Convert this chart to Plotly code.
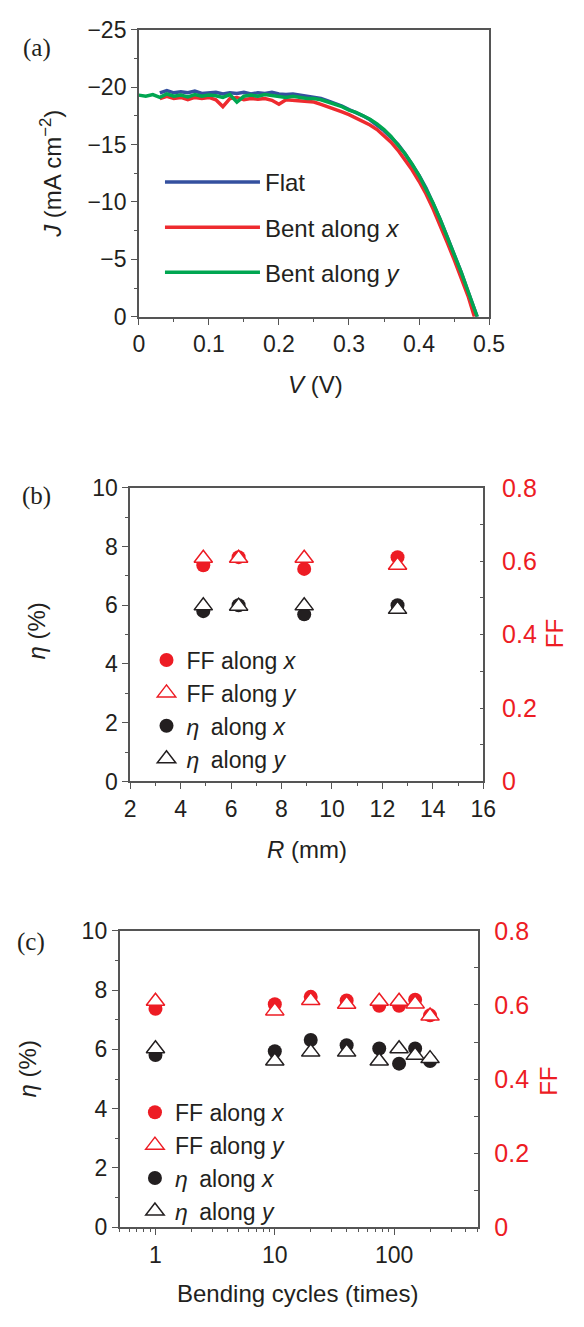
import math
import plotly.graph_objects as go

W, H = 584, 1327

# ---------------- Panel (a): J-V curves ----------------
V_flat = [0.03, 0.04, 0.05, 0.06, 0.07, 0.08, 0.09, 0.10, 0.11, 0.12, 0.13, 0.14, 0.15, 0.16,
          0.17, 0.18, 0.19, 0.20, 0.21, 0.22, 0.23, 0.24, 0.25, 0.26, 0.27, 0.28, 0.29, 0.30,
          0.31, 0.32, 0.33, 0.34, 0.35, 0.36, 0.37, 0.38, 0.39, 0.40, 0.41, 0.42, 0.43, 0.44,
          0.45, 0.46, 0.47, 0.48, 0.483]
J_flat = [-19.5, -19.7, -19.5, -19.6, -19.5, -19.65, -19.45, -19.5, -19.55, -19.4, -19.5, -19.45,
          -19.55, -19.4, -19.5, -19.45, -19.55, -19.4, -19.35, -19.4, -19.3, -19.2, -19.15, -19.0,
          -18.8, -18.6, -18.35, -18.05, -17.8, -17.5, -17.15, -16.7, -16.2, -15.6, -15.0, -14.2,
          -13.3, -12.3, -11.2, -9.9, -8.5, -7.0, -5.5, -3.9, -2.2, -0.6, 0.0]

V_bent_x = [0.03, 0.04, 0.05, 0.06, 0.07, 0.08, 0.09, 0.10, 0.11, 0.12, 0.13, 0.14, 0.15, 0.16,
            0.17, 0.18, 0.19, 0.20, 0.21, 0.22, 0.23, 0.24, 0.25, 0.26, 0.27, 0.28, 0.29, 0.30,
            0.31, 0.32, 0.33, 0.34, 0.35, 0.36, 0.37, 0.38, 0.39, 0.40, 0.41, 0.42, 0.43, 0.44,
            0.45, 0.46, 0.47, 0.479]
J_bent_x = [-19.0, -19.2, -19.0, -19.1, -18.9, -19.1, -19.0, -19.1, -18.9, -18.3, -19.0, -19.1,
            -18.9, -19.0, -18.95, -19.0, -18.85, -18.5, -18.9, -18.85, -18.8, -18.75, -18.7, -18.5,
            -18.3, -18.1, -17.85, -17.6, -17.3, -17.0, -16.7, -16.3, -15.8, -15.2, -14.5, -13.7,
            -12.8, -11.8, -10.7, -9.4, -8.0, -6.5, -5.0, -3.4, -1.8, 0.0]

V_bent_y = [0.00, 0.01, 0.02, 0.03, 0.04, 0.05, 0.06, 0.07, 0.08, 0.09, 0.10, 0.11, 0.12, 0.13,
            0.14, 0.15, 0.16, 0.17, 0.18, 0.19, 0.20, 0.21, 0.22, 0.23, 0.24, 0.25, 0.26, 0.27,
            0.28, 0.29, 0.30, 0.31, 0.32, 0.33, 0.34, 0.35, 0.36, 0.37, 0.38, 0.39, 0.40, 0.41,
            0.42, 0.43, 0.44, 0.45, 0.46, 0.47, 0.48, 0.483]
J_bent_y = [-19.3, -19.2, -19.35, -19.1, -19.4, -19.2, -19.3, -19.15, -19.35, -19.2, -19.3, -19.25,
            -19.1, -19.35, -18.7, -19.2, -19.3, -19.2, -19.35, -19.25, -19.2, -19.1, -19.2, -19.1,
            -19.0, -19.0, -18.9, -18.7, -18.5, -18.3, -18.0, -17.8, -17.5, -17.2, -16.8, -16.3,
            -15.7, -15.0, -14.2, -13.3, -12.3, -11.1, -9.9, -8.5, -7.0, -5.5, -3.9, -2.2, -0.5, 0.0]

# ---------------- Panel (b): vs bending radius ----------------
R_mm = [4.9, 6.3, 8.9, 12.6]
FF_R_x = [0.589, 0.611, 0.579, 0.611]
FF_R_y = [0.608, 0.608, 0.608, 0.589]
eta_R_x = [5.80, 6.00, 5.69, 6.00]
eta_R_y = [5.98, 5.97, 5.98, 5.86]

# ---------------- Panel (c): vs bending cycles ----------------
cycles = [1, 10, 20, 40, 75, 110, 150, 200]
FF_c_x = [0.590, 0.602, 0.622, 0.612, 0.598, 0.598, 0.614, 0.572]
FF_c_y = [0.610, 0.584, 0.612, 0.602, 0.610, 0.610, 0.603, 0.570]
eta_c_x = [5.81, 5.94, 6.32, 6.14, 6.03, 5.52, 6.03, 5.61]
eta_c_y = [6.02, 5.61, 5.91, 5.91, 5.61, 6.02, 5.80, 5.69]

BLUE = "#34509f"
RED_LINE = "#ee2b2f"
GREEN = "#00a651"
RED = "#ed1c24"
BLACK = "#231f20"
FONT = "Liberation Sans, Arial, sans-serif"
SERIF = "Liberation Serif, Times New Roman, serif"


def px(x):
    return x / W


def py(y):
    return 1 - y / H


fig = go.Figure()

# Panel (a) traces
fig.add_trace(go.Scatter(x=V_flat, y=J_flat, mode="lines", name="Flat",
                         line=dict(color=BLUE, width=3.5), xaxis="x", yaxis="y",
                         legend="legend", legendgroup="a1"))
fig.add_trace(go.Scatter(x=V_bent_x, y=J_bent_x, mode="lines", name="Bent along <i>x</i>",
                         line=dict(color=RED_LINE, width=3.5), xaxis="x", yaxis="y",
                         legend="legend", legendgroup="a2"))
fig.add_trace(go.Scatter(x=V_bent_y, y=J_bent_y, mode="lines", name="Bent along <i>y</i>",
                         line=dict(color=GREEN, width=3.5), xaxis="x", yaxis="y",
                         legend="legend", legendgroup="a3"))

ETA = "<i>η</i>"


def add_marker_set(xv, ffx, ffy, ex, ey, xa, ya_eta, ya_ff, leg):
    fig.add_trace(go.Scatter(x=xv, y=ffx, mode="markers", name="FF along <i>x</i>",
                             marker=dict(symbol="circle", size=14, color=RED),
                             xaxis=xa, yaxis=ya_ff, legend=leg))
    fig.add_trace(go.Scatter(x=xv, y=ffy, mode="markers", name="FF along <i>y</i>",
                             marker=dict(symbol="triangle-up", size=16, color="white",
                                         line=dict(color=RED, width=1.5)),
                             xaxis=xa, yaxis=ya_ff, legend=leg))
    fig.add_trace(go.Scatter(x=xv, y=ex, mode="markers", name=ETA + "\u2002along <i>x</i>",
                             marker=dict(symbol="circle", size=14, color=BLACK),
                             xaxis=xa, yaxis=ya_eta, legend=leg))
    fig.add_trace(go.Scatter(x=xv, y=ey, mode="markers", name=ETA + "\u2002along <i>y</i>",
                             marker=dict(symbol="triangle-up", size=16, color="white",
                                         line=dict(color=BLACK, width=1.5)),
                             xaxis=xa, yaxis=ya_eta, legend=leg))


add_marker_set(R_mm, FF_R_x, FF_R_y, eta_R_x, eta_R_y, "x2", "y2", "y3", "legend2")
add_marker_set(cycles, FF_c_x, FF_c_y, eta_c_x, eta_c_y, "x3", "y4", "y5", "legend3")

tickfont = dict(family=FONT, size=23, color=BLACK)
redtick = dict(family=FONT, size=25, color=RED)
line_common = dict(showline=True, linecolor="#555555", linewidth=1.5, mirror=True,
                   showgrid=False, zeroline=False, tickcolor="#555555")

fig.update_layout(
    width=W, height=H,
    margin=dict(l=0, r=0, t=0, b=0),
    paper_bgcolor="white", plot_bgcolor="white",
    showlegend=True,
    xaxis=dict(domain=[px(138), px(502)], anchor="y", range=[0, 0.5], dtick=0.1,
               tickformat="~g", ticks="outside", ticklen=6, tickfont=tickfont,
               minor=dict(dtick=0.05, ticks="outside", ticklen=3, tickcolor="#555555"),
               **line_common),
    yaxis=dict(domain=[py(309.3), py(16)], anchor="x", range=[0, -25], dtick=5,
               ticks="outside", ticklen=6, tickfont=tickfont,
               minor=dict(dtick=2.5, ticks="outside", ticklen=3, tickcolor="#555555"),
               **line_common),
    xaxis2=dict(domain=[px(129), px(496)], anchor="y2", range=[2, 16], dtick=2,
                ticks="outside", ticklen=6, tickfont=tickfont,
                minor=dict(dtick=1, ticks="outside", ticklen=3, tickcolor="#555555"),
                **line_common),
    yaxis2=dict(domain=[py(784), py(484)], anchor="x2", range=[0, 10], dtick=2,
                ticks="outside", ticklen=6, tickfont=tickfont,
                minor=dict(dtick=1, ticks="outside", ticklen=3, tickcolor="#555555"),
                **line_common),
    yaxis3=dict(overlaying="y2", anchor="x2", side="right", range=[0, 0.8],
                tickvals=[0, 0.2, 0.4, 0.6, 0.8], ticktext=["0", "0.2", "0.4", "0.6", "0.8"],
                ticks="inside", ticklen=4, tickcolor="#555555", tickfont=redtick,
                minor=dict(dtick=0.1, ticks="inside", ticklen=4, tickcolor="#555555"),
                showline=True, linecolor="#555555", linewidth=1.5, showgrid=False,
                zeroline=False, ticklabelstandoff=12),
    xaxis3=dict(domain=[px(118), px(490)], anchor="y4", type="log",
                range=[math.log10(0.5), math.log10(500)],
                tickvals=[1, 10, 100], ticktext=["1", "10", "100"],
                ticks="outside", ticklen=6, tickfont=tickfont,
                minor=dict(tickvals=[0.5, 0.6, 0.7, 0.8, 0.9, 2, 3, 4, 5, 6, 7, 8, 9,
                                     20, 30, 40, 50, 60, 70, 80, 90, 200, 300, 400, 500],
                           ticks="outside", ticklen=3, tickcolor="#555555"),
                **line_common),
    yaxis4=dict(domain=[py(1239.3), py(936.7)], anchor="x3", range=[0, 10], dtick=2,
                ticks="outside", ticklen=6, tickfont=tickfont,
                minor=dict(dtick=1, ticks="outside", ticklen=3, tickcolor="#555555"),
                **line_common),
    yaxis5=dict(overlaying="y4", anchor="x3", side="right", range=[0, 0.8],
                tickvals=[0, 0.2, 0.4, 0.6, 0.8], ticktext=["0", "0.2", "0.4", "0.6", "0.8"],
                ticks="inside", ticklen=4, tickcolor="#555555", tickfont=redtick,
                minor=dict(dtick=0.1, ticks="inside", ticklen=4, tickcolor="#555555"),
                showline=True, linecolor="#555555", linewidth=1.5, showgrid=False,
                zeroline=False, ticklabelstandoff=10),
    legend=dict(x=px(160), y=py(149), xanchor="left", yanchor="top",
                bgcolor="rgba(0,0,0,0)", font=dict(family=FONT, size=24, color=BLACK),
                itemwidth=95, tracegroupgap=11),
    legend2=dict(x=px(146), y=py(638), xanchor="left", yanchor="top",
                 bgcolor="rgba(0,0,0,0)", font=dict(family=FONT, size=23, color=BLACK),
                 itemwidth=30),
    legend3=dict(x=px(134), y=py(1100), xanchor="left", yanchor="top",
                 bgcolor="rgba(0,0,0,0)", font=dict(family=FONT, size=23, color=BLACK),
                 itemwidth=30),
)

ann = []


def text(x, y, s, size=24, color=BLACK, family=FONT, angle=0):
    ann.append(dict(x=px(x), y=py(y), xref="paper", yref="paper", text=s, showarrow=False,
                    xanchor="center", yanchor="middle", textangle=angle,
                    font=dict(family=family, size=size, color=color)))


text(32, 35, "(a)", size=25, family=SERIF)
text(32, 492, "(b)", size=25, family=SERIF)
text(26, 948, "(c)", size=25, family=SERIF)
text(46, 163, "<i>J</i> (mA cm<sup>−2</sup>)", angle=-90)
text(322, 378, "<i>V</i> (V)")
text(32, 630, "<i>η</i> (%)", angle=-90)
text(313, 853, "<i>R</i> (mm)")
text(570, 633, "FF", color=RED, angle=-90)
text(22, 1078, "<i>η</i> (%)", angle=-90)
text(303, 1307, "Bending cycles (times)")
text(563, 1090, "FF", color=RED, angle=-90)
fig.update_layout(annotations=ann)

fig.write_html("out.html")
